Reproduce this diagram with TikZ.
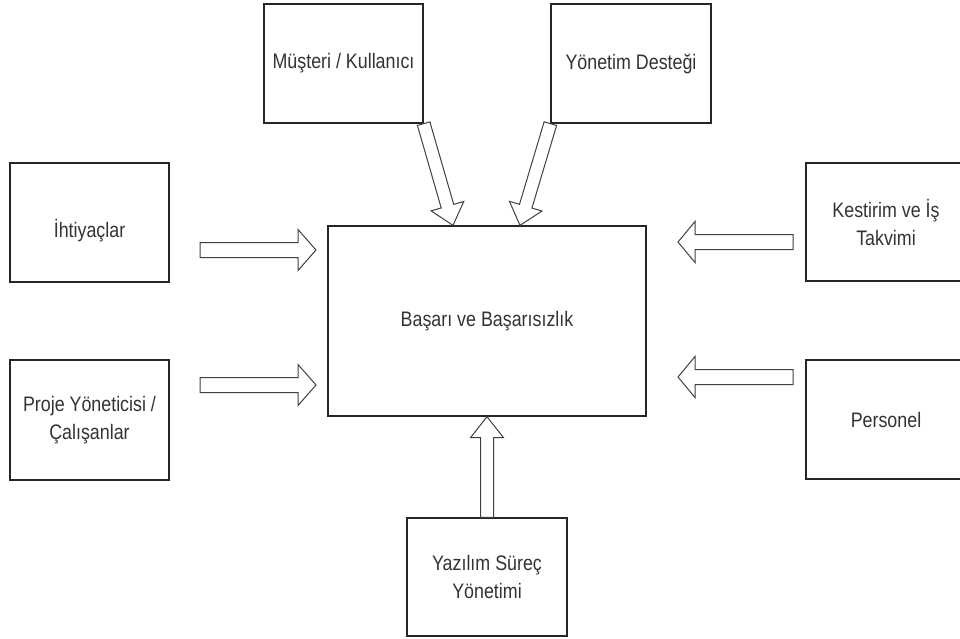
\documentclass[tikz,border=0pt]{standalone}
\usepackage{fontspec}
\setmainfont{Liberation Sans}[FakeStretch=0.85]
\usetikzlibrary{calc}

\tikzset{
  kutu/.style={draw=black!85, line width=1.3pt, fill=white, text=black!80,
    align=center, inner sep=2pt, minimum width=160pt, minimum height=119pt,
    font=\fontsize{21}{28}\selectfont},
  merkez/.style={kutu, minimum width=318pt, minimum height=190pt},
  okgovde/.style={draw=black!75, line width=1pt, fill=white, line join=miter},
}

% kalin ok: #1 kuyruk, #2 uc, #3 govde yari genisligi, #4 bas yari genisligi, #5 bas boyu
\newcommand{\kalinok}[5]{%
  \coordinate (okbas) at ($(#2)!#5!(#1)$);
  \draw[okgovde] ($(#1)!#3!90:(#2)$) -- ($(okbas)!#3!90:(#2)$)
    -- ($(okbas)!#4!90:(#2)$) -- (#2) -- ($(okbas)!#4!-90:(#2)$)
    -- ($(okbas)!#3!-90:(#2)$) -- ($(#1)!#3!-90:(#2)$) -- cycle;
}

\begin{document}
\begin{tikzpicture}[x=1pt, y=-1pt]
\useasboundingbox (0,0) rectangle (960,638);

\node[merkez] (basari) at (487,321) {Başarı ve Başarısızlık};

\node[kutu, minimum width=159pt] (musteri) at (343.5,63.5) {Müşteri / Kullanıcı};
\node[kutu] (yonetim) at (631,63.5) {Yönetim Desteği};
\node[kutu, minimum width=159pt] (ihtiyac) at (89.5,222.5) {\raisebox{-8pt}[\height][\depth]{İhtiyaçlar}};
\node[kutu, minimum width=159pt, minimum height=120pt] (proje) at (89.5,420) {Proje Yöneticisi /\\Çalışanlar};
\node[kutu, minimum height=118pt] (kestirim) at (886,222) {Kestirim ve İş\\Takvimi};
\node[kutu] (personel) at (886,419.5) {Personel};
\node[kutu, minimum height=118pt] (yazilim) at (487,577) {Yazılım Süreç\\Yönetimi};

% ok uclari
\coordinate (musteri-uc) at ($(basari.north)+(-34,0)$);
\coordinate (yonetim-uc) at ($(basari.north)+(33,0)$);
\coordinate (ihtiyac-ok) at (200,250);
\coordinate (ihtiyac-uc) at (316,250);
\coordinate (proje-ok) at (200,385);
\coordinate (proje-uc) at (316,385);
\coordinate (kestirim-ok) at (793,242);
\coordinate (kestirim-uc) at (678,242);
\coordinate (personel-ok) at (793,377);
\coordinate (personel-uc) at (678,377);

\kalinok{musteri.south east}{musteri-uc}{6.5pt}{17pt}{20pt}
\kalinok{yonetim.south west}{yonetim-uc}{6.5pt}{17pt}{20pt}
\kalinok{ihtiyac-ok}{ihtiyac-uc}{7.5pt}{20.5pt}{18pt}
\kalinok{proje-ok}{proje-uc}{7.5pt}{20.5pt}{18pt}
\kalinok{kestirim-ok}{kestirim-uc}{7.5pt}{20.5pt}{17pt}
\kalinok{personel-ok}{personel-uc}{7.5pt}{20.5pt}{17pt}
\kalinok{yazilim.north}{basari.south}{6.5pt}{16.5pt}{21pt}
\end{tikzpicture}
\end{document}
